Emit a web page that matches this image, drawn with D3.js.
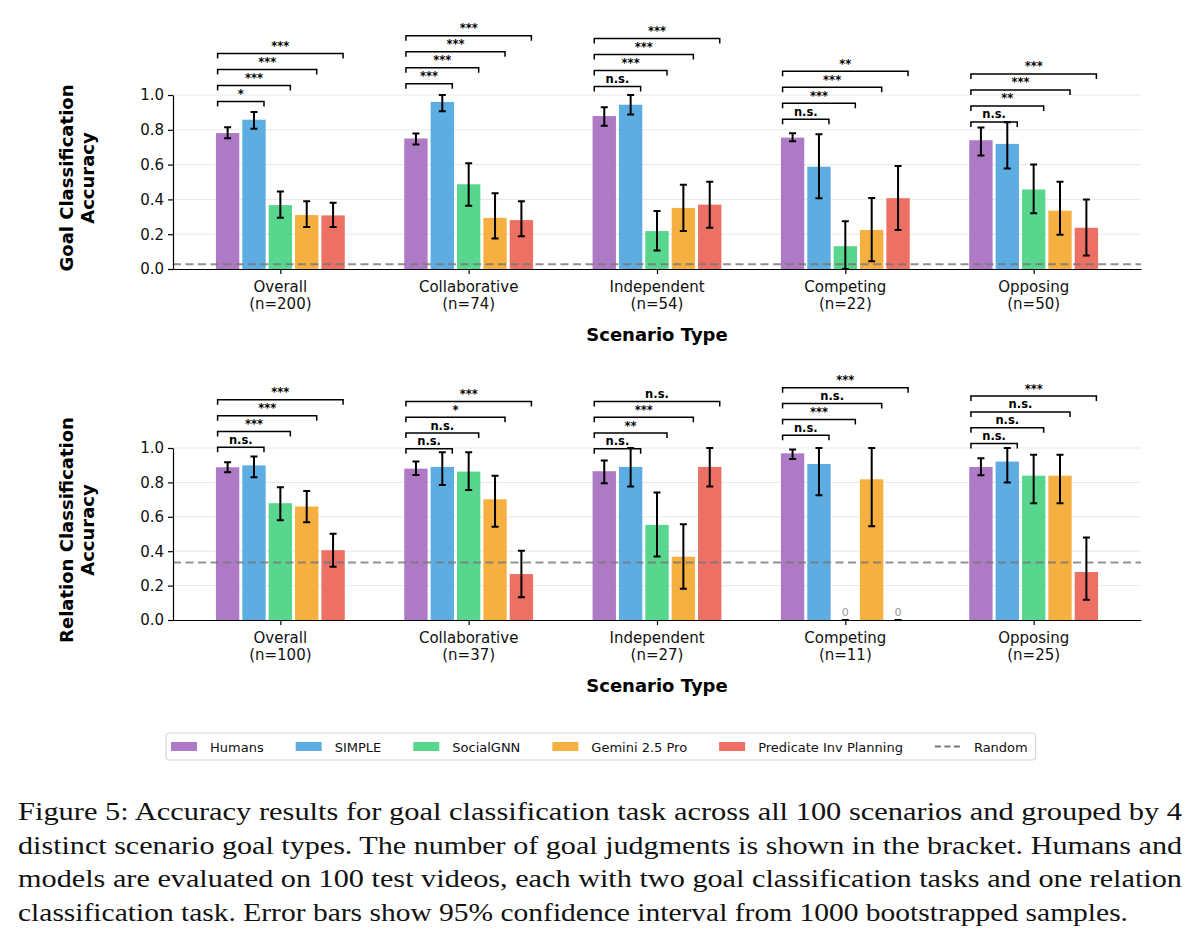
<!DOCTYPE html>
<html>
<head>
<meta charset="utf-8">
<script src="https://cdn.jsdelivr.net/npm/d3@7"></script>
<style>
  body { margin: 0; background: #fff; }
</style>
</head>
<body>
<div id="chart"></div>
<script>
// scenario groups and judgment counts
const categories = ['Overall', 'Collaborative', 'Independent', 'Competing', 'Opposing'];
const goalCounts = [200, 74, 54, 22, 50];
const relationCounts = [100, 37, 27, 11, 25];

const models = ['Humans', 'SIMPLE', 'SocialGNN', 'Gemini 2.5 Pro', 'Predicate Inv Planning'];
const modelColors = ['#af7ac5', '#5dade2', '#58d68d', '#f5b041', '#ec7063'];

// goal classification accuracy, one row per scenario group (models in order)
const goalMean = [
  [0.781, 0.858, 0.367, 0.310, 0.308],
  [0.750, 0.960, 0.487, 0.294, 0.281],
  [0.879, 0.944, 0.218, 0.351, 0.370],
  [0.755, 0.588, 0.131, 0.224, 0.407],
  [0.740, 0.719, 0.457, 0.335, 0.237]
];
const goalLow = [
  [0.752, 0.806, 0.294, 0.242, 0.242],
  [0.715, 0.906, 0.363, 0.175, 0.188],
  [0.823, 0.888, 0.106, 0.218, 0.237],
  [0.734, 0.407, 0.000, 0.044, 0.224],
  [0.653, 0.578, 0.320, 0.197, 0.077]
];
const goalHigh = [
  [0.815, 0.902, 0.446, 0.390, 0.381],
  [0.779, 1.000, 0.608, 0.435, 0.390],
  [0.929, 1.000, 0.333, 0.484, 0.501],
  [0.780, 0.775, 0.274, 0.408, 0.592],
  [0.813, 0.844, 0.601, 0.501, 0.399]
];
// significance of Humans vs each model
const goalSig = [
  ['*', '***', '***', '***'],
  ['***', '***', '***', '***'],
  ['n.s.', '***', '***', '***'],
  ['n.s.', '***', '***', '**'],
  ['n.s.', '**', '***', '***']
];
const goalChance = 0.028;

// relation classification accuracy
const relationMean = [
  [0.888, 0.899, 0.679, 0.660, 0.406],
  [0.880, 0.890, 0.863, 0.702, 0.267],
  [0.865, 0.890, 0.553, 0.368, 0.890],
  [0.969, 0.907, 0.000, 0.818, 0.000],
  [0.890, 0.921, 0.839, 0.839, 0.279]
];
const relationLow = [
  [0.859, 0.830, 0.580, 0.569, 0.309],
  [0.843, 0.785, 0.756, 0.542, 0.132],
  [0.795, 0.776, 0.369, 0.182, 0.776],
  [0.936, 0.725, 0.000, 0.545, 0.000],
  [0.841, 0.799, 0.679, 0.679, 0.118]
];
const relationHigh = [
  [0.917, 0.950, 0.772, 0.750, 0.501],
  [0.921, 0.975, 0.975, 0.839, 0.402],
  [0.928, 1.000, 0.741, 0.557, 1.000],
  [0.992, 1.000, 0.000, 1.000, 0.000],
  [0.940, 1.000, 0.961, 0.961, 0.480]
];
const relationSig = [
  ['n.s.', '***', '***', '***'],
  ['n.s.', 'n.s.', '*', '***'],
  ['n.s.', '**', '***', 'n.s.'],
  ['n.s.', '***', 'n.s.', '***'],
  ['n.s.', 'n.s.', 'n.s.', '***']
];
const relationChance = 0.335;

const yTicks = [0, 0.2, 0.4, 0.6, 0.8, 1.0];

const captionLines = [
  'Figure 5:  Accuracy results for goal classification task across all 100 scenarios and grouped by 4',
  'distinct scenario goal types. The number of goal judgments is shown in the bracket. Humans and',
  'models are evaluated on 100 test videos, each with two goal classification tasks and one relation',
  'classification task. Error bars show 95% confidence interval from 1000 bootstrapped samples.'
];

const width = 1200, height = 945;
const svg = d3.select('#chart').append('svg')
  .attr('width', width)
  .attr('height', height)
  .style('font-family', '"DejaVu Sans", sans-serif');

svg.append('rect').attr('width', width).attr('height', height).attr('fill', '#fff');

const x = d3.scaleLinear().domain([-0.57, 4.57]).range([173, 1141]);
const barStep = 0.14;
const barW = x(barStep) - x(0) - 3;
const offset = i => (i - 2) * barStep;

function drawPanel(cfg) {
  const y = d3.scaleLinear().domain([0, 1]).range([cfg.bottom, cfg.top]);
  const g = svg.append('g');

  // grid
  g.append('g').selectAll('line')
    .data(yTicks.slice(1))
    .join('line')
    .attr('x1', x.range()[0]).attr('x2', x.range()[1])
    .attr('y1', d => y(d)).attr('y2', d => y(d))
    .attr('stroke', '#e8e8e8').attr('stroke-width', 1);

  const flat = [];
  categories.forEach((c, ci) => {
    models.forEach((m, mi) => {
      flat.push({ ci, mi, v: cfg.mean[ci][mi], lo: cfg.low[ci][mi], hi: cfg.high[ci][mi] });
    });
  });

  // bars
  g.append('g').selectAll('rect')
    .data(flat)
    .join('rect')
    .attr('x', d => x(d.ci + offset(d.mi)) - barW / 2)
    .attr('width', barW)
    .attr('y', d => y(d.v))
    .attr('height', d => y(0) - y(d.v))
    .attr('fill', d => modelColors[d.mi]);

  // zero labels
  g.append('g').selectAll('text')
    .data(flat.filter(d => d.v === 0))
    .join('text')
    .attr('x', d => x(d.ci + offset(d.mi)))
    .attr('y', y(0) - 4)
    .attr('text-anchor', 'middle')
    .attr('font-size', 11)
    .attr('fill', '#999')
    .text('0');

  // chance line
  g.append('line')
    .attr('x1', x.range()[0]).attr('x2', x.range()[1])
    .attr('y1', y(cfg.chance)).attr('y2', y(cfg.chance))
    .attr('stroke', '#777').attr('stroke-opacity', 0.8)
    .attr('stroke-width', 2).attr('stroke-dasharray', '8,4.5');

  // error bars
  const eb = g.append('g').attr('stroke', '#000').attr('stroke-width', 2);
  eb.selectAll('path')
    .data(flat)
    .join('path')
    .attr('fill', 'none')
    .attr('d', d => {
      const cx = x(d.ci + offset(d.mi)), y1 = y(d.lo), y2 = y(d.hi);
      return `M${cx},${y1}L${cx},${y2}M${cx - 3.5},${y1}L${cx + 3.5},${y1}M${cx - 3.5},${y2}L${cx + 3.5},${y2}`;
    });

  // axes
  g.append('g')
    .attr('transform', `translate(${x.range()[0]},0)`)
    .call(d3.axisLeft(y).tickValues(yTicks).tickFormat(d3.format('.1f')).tickSize(5).tickSizeOuter(0).tickPadding(4))
    .call(a => a.selectAll('text').attr('font-size', 15).attr('fill', '#111').attr('font-family', '"DejaVu Sans"'))
    .call(a => a.selectAll('line,path').attr('stroke', '#000').attr('stroke-width', 1.2));

  g.append('g')
    .attr('transform', `translate(0,${y(0)})`)
    .call(d3.axisBottom(x).tickValues(d3.range(categories.length)).tickFormat('').tickSize(5).tickSizeOuter(0))
    .call(a => a.selectAll('line,path').attr('stroke', '#000').attr('stroke-width', 1.2));

  const lab = g.append('g').selectAll('text')
    .data(categories)
    .join('text')
    .attr('text-anchor', 'middle')
    .attr('font-size', 15)
    .attr('fill', '#111');
  lab.append('tspan').attr('x', (d, i) => x(i)).attr('y', y(0) + 23).text(d => d);
  lab.append('tspan').attr('x', (d, i) => x(i)).attr('y', y(0) + 40).text((d, i) => `(n=${cfg.counts[i]})`);

  g.append('text')
    .attr('x', (x.range()[0] + x.range()[1]) / 2)
    .attr('y', y(0) + 72)
    .attr('text-anchor', 'middle')
    .attr('font-size', 18).attr('font-weight', 'bold')
    .text('Scenario Type');

  const yt = g.append('text')
    .attr('transform', `translate(0,${(cfg.top + cfg.bottom) / 2 - 4}) rotate(-90)`)
    .attr('text-anchor', 'middle')
    .attr('font-size', 18).attr('font-weight', 'bold');
  yt.append('tspan').attr('x', 0).attr('y', 73).text(cfg.title);
  yt.append('tspan').attr('x', 0).attr('y', 94).text('Accuracy');

  // significance brackets, Humans vs each model
  const br = [];
  categories.forEach((c, ci) => {
    const base = d3.max(cfg.mean[ci]) + 0.105;
    cfg.sig[ci].forEach((s, k) => {
      br.push({ ci, k, s, yv: base + k * 0.092 });
    });
  });
  const bg = g.append('g').selectAll('g').data(br).join('g');
  bg.append('path')
    .attr('fill', 'none').attr('stroke', '#000').attr('stroke-width', 1.5)
    .attr('d', d => {
      const x1 = x(d.ci + offset(0)) - 10, x2 = x(d.ci + offset(d.k + 1)) + 10, yy = y(d.yv);
      return `M${x1},${yy + 5}L${x1},${yy}L${x2},${yy}L${x2},${yy + 5}`;
    });
  bg.append('text')
    .attr('x', d => (x(d.ci + offset(0)) + x(d.ci + offset(d.k + 1))) / 2)
    .attr('y', d => y(d.yv) - 3.5)
    .attr('text-anchor', 'middle')
    .attr('font-size', 11.5).attr('font-weight', 'bold')
    .attr('fill', '#000')
    .text(d => d.s);
}

drawPanel({ top: 95, bottom: 269, mean: goalMean, low: goalLow, high: goalHigh, sig: goalSig,
  chance: goalChance, counts: goalCounts, title: 'Goal Classification' });
drawPanel({ top: 448, bottom: 620, mean: relationMean, low: relationLow, high: relationHigh, sig: relationSig,
  chance: relationChance, counts: relationCounts, title: 'Relation Classification' });

// legend
const legend = svg.append('g');
const legendBox = legend.append('rect')
  .attr('x', 166).attr('y', 733).attr('height', 27).attr('rx', 3)
  .attr('fill', '#fff').attr('stroke', '#d0d0d0').attr('stroke-width', 1);
const legendItems = models.map((m, i) => ({ label: m, color: modelColors[i], dash: false }))
  .concat([{ label: 'Random', color: '#777', dash: true }]);
let lx = 171;
legendItems.forEach(it => {
  if (it.dash) {
    legend.append('line').attr('x1', lx).attr('x2', lx + 26).attr('y1', 746.5).attr('y2', 746.5)
      .attr('stroke', it.color).attr('stroke-width', 2).attr('stroke-dasharray', '6,3.5');
  } else {
    legend.append('rect').attr('x', lx).attr('y', 742).attr('width', 26).attr('height', 9).attr('fill', it.color);
  }
  const t = legend.append('text').attr('x', lx + 39).attr('y', 751.5)
    .attr('font-size', 13).attr('fill', '#111').text(it.label);
  lx += 39 + t.node().getComputedTextLength() + 32;
});
legendBox.attr('width', lx - 32 + 8 - 166);

// caption
const cap = svg.append('g').attr('font-family', '"Liberation Serif", serif').attr('font-size', 26).attr('fill', '#111');
const capLen = [1164, 1164, 1164, 1110];
captionLines.forEach((s, i) => {
  cap.append('text')
    .attr('x', 18).attr('y', 820 + i * 33.5)
    .attr('textLength', capLen[i]).attr('lengthAdjust', 'spacingAndGlyphs')
    .text(s);
});
</script>
</body>
</html>
